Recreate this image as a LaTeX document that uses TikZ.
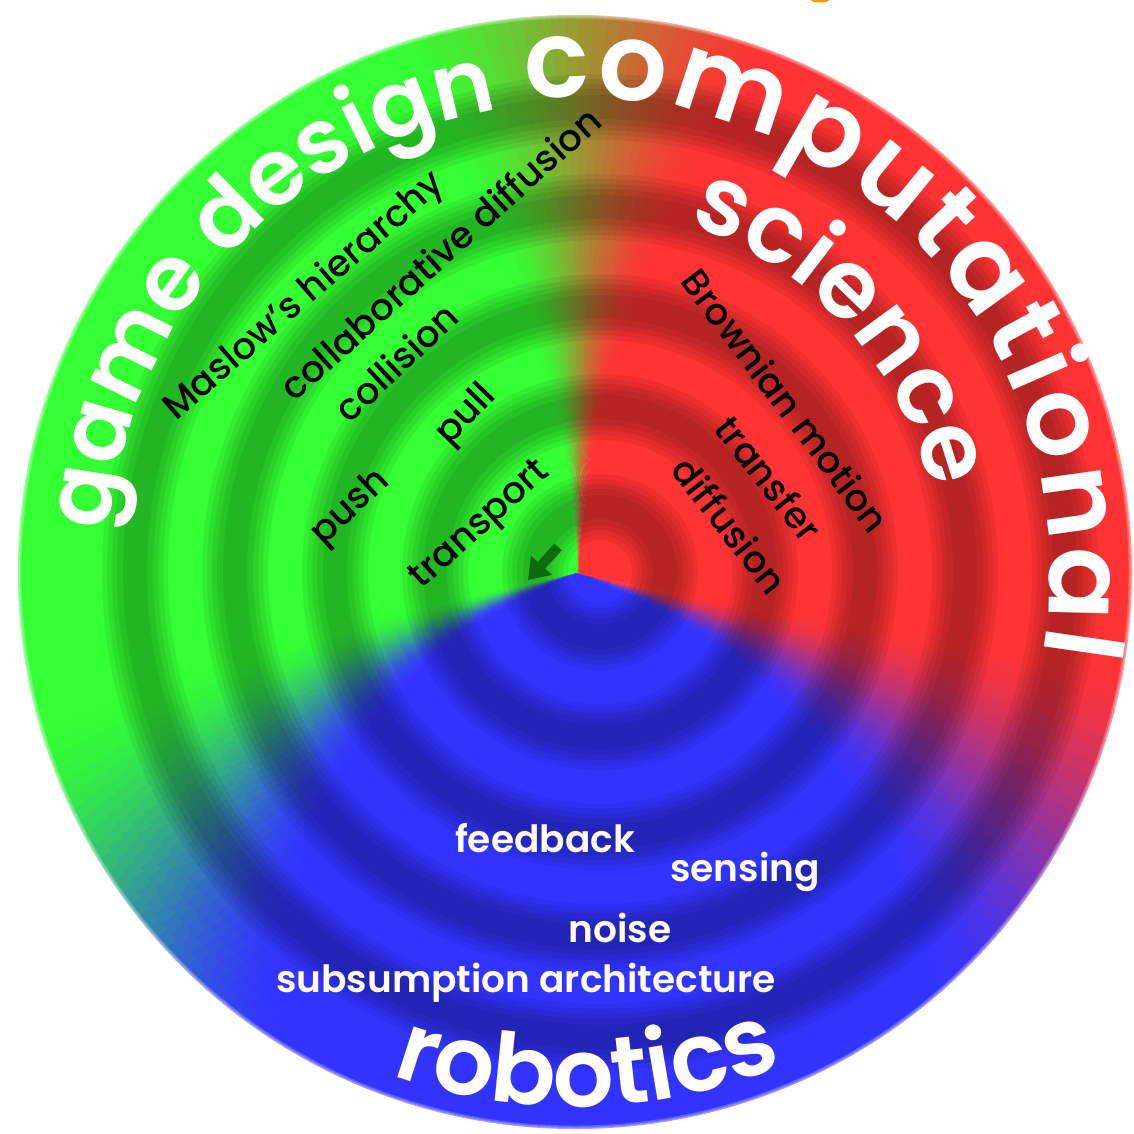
\documentclass[tikz,border=0pt]{standalone}
\usepackage{fontspec}
\usetikzlibrary{decorations.text,arrows.meta}
\setmainfont{Poppins}
\IfFontExistsTF{Poppins SemiBold}{\newfontfamily\bigf{Poppins SemiBold}}{\newfontfamily\bigf{Poppins}}
\IfFontExistsTF{Poppins Medium}{\newfontfamily\medf{Poppins Medium}}{\newfontfamily\medf{Poppins}}
\definecolor{gl}{rgb}{0.2,1,0.2}
\definecolor{rl}{rgb}{1,0.2,0.2}
\definecolor{bl}{rgb}{0.2,0.2,1}
\definecolor{arrowgreen}{rgb}{0.05,0.42,0.05}
\definecolor{blobor}{rgb}{1,0.6,0}
\newcommand\sectorcell[5]{%
  \pgfmathsetmacro{\sca}{#1}\pgfmathsetmacro{\scb}{#2}%
  \fill[#5] (\sca:#3) arc[start angle=\sca, end angle=\scb, radius=#3] -- (\scb:#4) arc[start angle=\scb, end angle=\sca, radius=#4] -- cycle;}
\newcommand\blendzone[6]{%
  \foreach \bk in {0,...,29} {%
    \pgfmathsetmacro{\bza}{#1-#2+\bk*#2/15-0.1}%
    \pgfmathsetmacro{\bzb}{#1-#2+(\bk+1)*#2/15+0.1}%
    \pgfmathsetmacro{\bzu}{(\bk+0.5)/30}%
    \pgfmathsetmacro{\bmix}{100*(3*\bzu*\bzu-2*\bzu*\bzu*\bzu)}%
    \sectorcell{\bza}{\bzb}{#3}{#4}{#6!\bmix!#5}%
  }}
\newcommand\gdfont{\bigf\fontsize{92}{92}\selectfont\color{white}}
\newcommand\cpfont{\bigf\fontsize{108}{108}\selectfont\color{white}}
\newcommand\scfont{\bigf\fontsize{96}{96}\selectfont\color{white}}
\newcommand\rbfont{\bigf\fontsize{96}{96}\selectfont\color{white}}
\tikzset{
  lab/.style={font=\medf\fontsize{37}{37}\selectfont, text=black, inner sep=0pt},
  wlab/.style={font=\bigf\fontsize{37.5}{37.5}\selectfont, text=white, inner sep=0pt},
  bigword/.style={decorate},
  arrowst/.style={draw=arrowgreen, line width=10pt, -{Triangle[width=27pt,length=20pt]}},
  darkring/.style={fill=black, fill opacity=0.062, even odd rule},
  softedge/.style={draw=white, draw opacity=0.22}
}
\begin{document}
\begin{tikzpicture}[x=1pt,y=1pt]
\useasboundingbox (0,0) rectangle (1134,-1134);
\fill[white] (0,0) rectangle (1134,-1134);
\fill[blobor] (820,0) ellipse[x radius=9, y radius=2.5];
\begin{scope}[shift={(578,-573)}]
  \begin{scope}
  \clip (-3,1) circle[radius=557];
  \foreach \i in {0,...,35} {
    \pgfmathsetmacro{\rin}{max(\i*16-0.5,0.01)}
    \pgfmathsetmacro{\rout}{\i*16+16.5}
    \pgfmathsetmacro{\rmid}{\i*16+8}
    \pgfmathsetmacro{\bw}{4+18*\rmid/560}
    \pgfmathsetmacro{\tgb}{195+22*\rmid/560}
    \pgfmathsetmacro{\trb}{344-13*\rmid/560}
    \sectorcell{90+\bw-0.2}{\tgb-\bw+0.2}{\rin}{\rout}{gl}
    \sectorcell{\tgb+\bw-0.2}{\trb-\bw+0.2}{\rin}{\rout}{bl}
    \sectorcell{\trb+\bw-0.2}{450-\bw+0.2}{\rin}{\rout}{rl}
    \blendzone{\tgb}{\bw}{\rin}{\rout}{gl}{bl}
    \blendzone{\trb}{\bw}{\rin}{\rout}{bl}{rl}
    \blendzone{450}{\bw}{\rin}{\rout}{rl}{gl}
  }
  \begin{scope}[shift={(22,1)}]
    \foreach \rk in {65,165,265,365,465} {
      \foreach \hw in {12,18,23,28,33} {
        \path[darkring] (0,0) circle[radius=\rk+\hw] (0,0) circle[radius=\rk-\hw];
      }
    }
  \end{scope}
  \end{scope}
  \foreach \lw in {2,4,7} {
    \path[softedge, line width=\lw] (-3,1) circle[radius=557];
  }
\end{scope}
% big curved words
\begin{scope}[shift={(575,-572)}]
  \path[bigword, decoration={text along path, text={|\gdfont|game design}, text align=fit to path}]
    (175:468) arc[start angle=175, end angle=102, radius=468];
  \path[bigword, decoration={text along path, text={|\cpfont|computational}, text align=fit to path}]
    (96:475) arc[start angle=96, end angle=-10, radius=475];
  \path[bigword, decoration={text along path, text={|\scfont|science}, text align=fit to path}]
    (72:365) arc[start angle=72, end angle=14, radius=365];
  \path[bigword, decoration={text along path, text={|\rbfont|robotics}, text align=fit to path}]
    (250:535) arc[start angle=250, end angle=292, radius=535];
\end{scope}
% inner labels
\node[lab, rotate=41] (maslow) at (305,-297) {Maslow’s hierarchy};
\node[lab, rotate=42] (collab) at (440,-253) {collaborative diffusion};
\node[lab, rotate=43] (collision) at (396,-362) {collision};
\node[lab, rotate=46] (pull) at (467,-416) {pull};
\node[lab, rotate=43] (push) at (351,-508) {push};
\node[lab, rotate=42] (transport) at (481,-526) {transport};
\node[lab, rotate=-53] (brownian) at (786,-400) {Brownian motion};
\node[lab, rotate=-52] (transfer) at (769,-478) {transfer};
\node[lab, rotate=-52] (diffusion) at (730,-525) {diffusion};
\node[wlab] (feedback) at (545,-838) {feedback};
\node[wlab] (sensing) at (745,-872) {sensing};
\node[wlab] (noise) at (620,-928) {noise};
\node[wlab] (subsumption) at (526,-983) {subsumption architecture};
% center arrow
\coordinate (arrS) at (558,-547);
\coordinate (arrE) at (528,-580);
\draw[arrowst] (arrS) -- (arrE);
\end{tikzpicture}
\end{document}
